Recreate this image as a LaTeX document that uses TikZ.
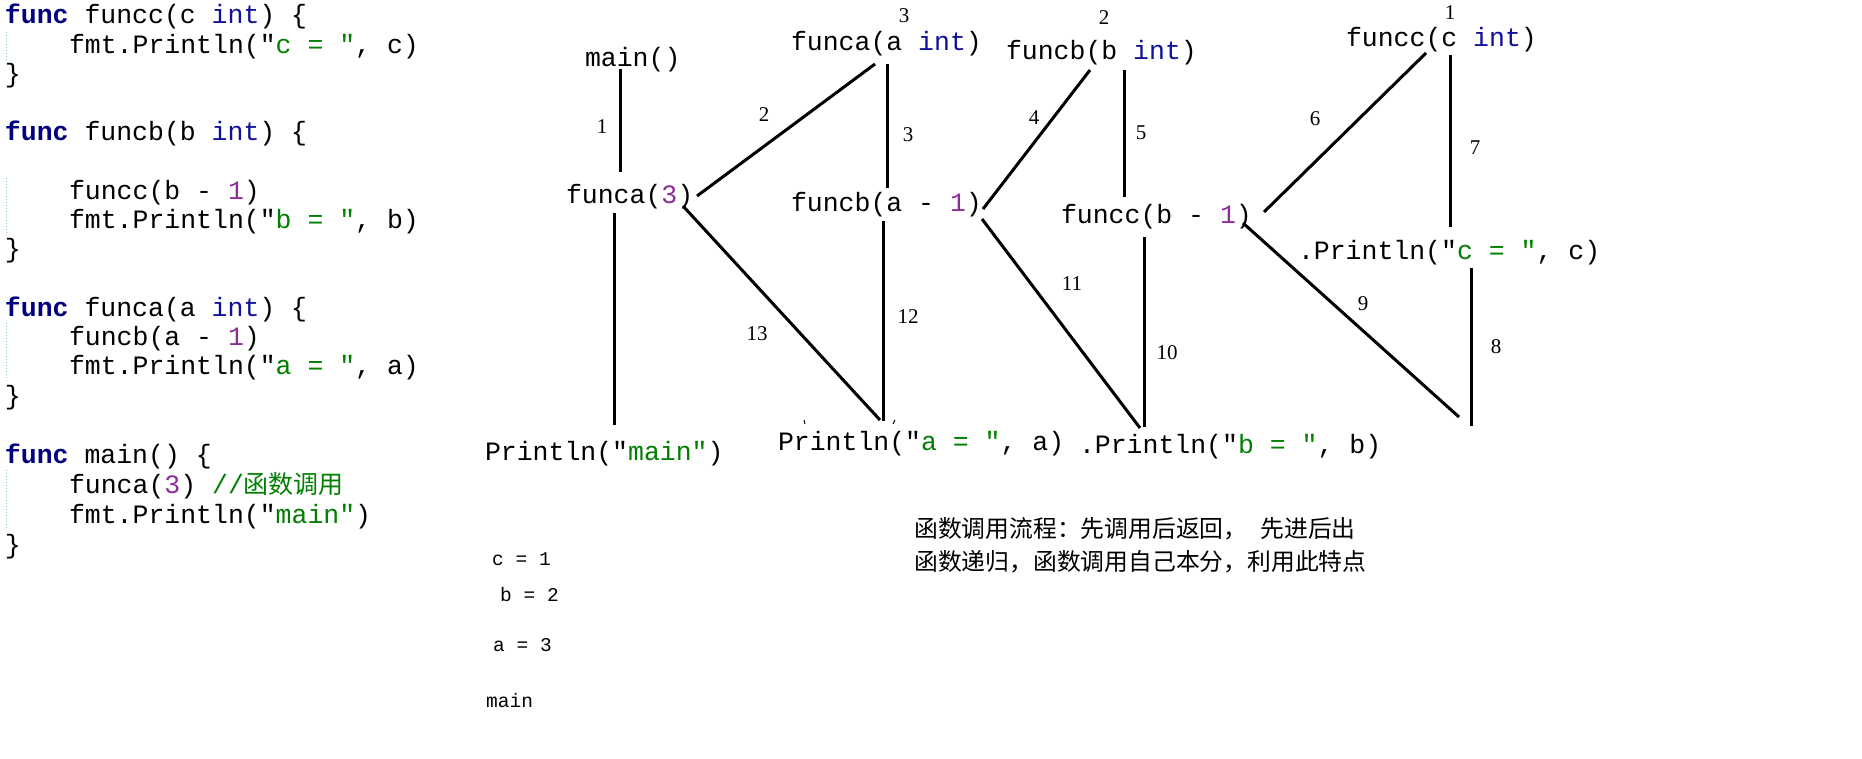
\documentclass[tikz,border=0pt]{standalone}
\usepackage{fontspec}
\newfontfamily\codefont{Liberation Mono}
\newfontfamily\digfont{Liberation Serif}
\newfontfamily\cjkfont{Noto Sans CJK SC}
\definecolor{kwblue}{HTML}{000080}
\definecolor{tyblue}{HTML}{10109A}
\definecolor{strgreen}{HTML}{008000}
\definecolor{numpurple}{HTML}{8E2C9C}
\definecolor{guide}{HTML}{7CC4C4}
\newcommand\gokw[1]{{\bfseries\color{kwblue}#1}}
\newcommand\goty[1]{{\color{tyblue}#1}}
\newcommand\gostr[1]{"{\color{strgreen}#1"}}
\newcommand\gonum[1]{{\color{numpurple}#1}}
\tikzset{
  code/.style={anchor=base west, inner sep=0pt, outer sep=0pt, font=\codefont\fontsize{26.5}{30}\selectfont},
  lbl/.style={inner sep=0pt, font=\digfont\fontsize{21}{24}\selectfont},
  outtxt/.style={anchor=base west, inner sep=0pt, font=\codefont\fontsize{19.5}{22}\selectfont},
  note/.style={anchor=base west, inner sep=0pt, font=\cjkfont\fontsize{23.8}{28}\selectfont},
  edge/.style={line width=3pt, black},
  guideline/.style={guide, line width=1pt, dash pattern=on 1pt off 2pt},
  tick/.style={line width=1pt, black}
}
\begin{document}
\begin{tikzpicture}[x=1pt,y=-1pt]
\useasboundingbox (0,0) rectangle (1862,758);
\fill[white] (0,0) rectangle (1862,758);

% ---------- source code ----------
\node[code] (c1)  at (5,23)    {\gokw{func} funcc(c \goty{int}) \{};
\node[code] (c2)  at (69,53)   {fmt.Println(\gostr{c = }, c)};
\node[code] (c3)  at (5,82)    {\}};
\node[code] (c5)  at (5,140)   {\gokw{func} funcb(b \goty{int}) \{};
\node[code] (c7)  at (69,199)  {funcc(b - \gonum{1})};
\node[code] (c8)  at (69,228)  {fmt.Println(\gostr{b = }, b)};
\node[code] (c9)  at (5,257)   {\}};
\node[code] (c11) at (5,316)   {\gokw{func} funca(a \goty{int}) \{};
\node[code] (c12) at (69,345)  {funcb(a - \gonum{1})};
\node[code] (c13) at (69,374)  {fmt.Println(\gostr{a = }, a)};
\node[code] (c14) at (5,404)   {\}};
\node[code] (c16) at (5,463)   {\gokw{func} main() \{};
\node[code] (c17) at (69,493)  {funca(\gonum{3}) {\color{strgreen}//{\cjkfont\fontsize{25}{30}\selectfont 函数调用}}};
\node[code] (c18) at (69,523)  {fmt.Println(\gostr{main})};
\node[code] (c19) at (5,553)   {\}};

\draw[guideline] (6.3,32) -- (6.3,60);
\draw[guideline] (6.3,178) -- (6.3,235);
\draw[guideline] (6.3,323) -- (6.3,380);
\draw[guideline] (6.3,470) -- (6.3,530);

% ---------- call tree nodes ----------
\node[code] (main)   at (585,66)   {main()};
\node[code] (fa3)    at (566,203)  {funca(\gonum{3})};
\node[code] (faint)  at (791,50)   {funca(a \goty{int})};
\node[code] (fbam1)  at (791,211)  {funcb(a - \gonum{1})};
\node[code] (fbint)  at (1006,59)  {funcb(b \goty{int})};
\node[code] (fcbm1)  at (1061,223) {funcc(b - \gonum{1})};
\node[code] (fcint)  at (1346,46)  {funcc(c \goty{int})};
\node[code] (prc)    at (1298,259) {.Println(\gostr{c = }, c)};
\node[code] (prmain) at (485,460)  {Println(\gostr{main})};
\node[code] (pra)    at (778,450)  {Println(\gostr{a = }, a)};
\node[code] (prb)    at (1079,453) {.Println(\gostr{b = }, b)};

% values on top
\node[lbl] (v3) at (904,16)  {3};
\node[lbl] (v2) at (1104,18) {2};
\node[lbl] (v1) at (1450,13) {1};

% ---------- connector end points ----------
\coordinate (main-s)  at (620,69);
\coordinate (fa3-n)   at (620,172);
\coordinate (fa3-ne)  at (697,196);
\coordinate (faint-sw) at (875,64);
\coordinate (faint-s) at (887,64);
\coordinate (fbam1-n) at (887,188);
\coordinate (fbam1-ne) at (983,209);
\coordinate (fbint-sw) at (1090,70);
\coordinate (fbint-s) at (1124,70);
\coordinate (fcbm1-n) at (1124,197);
\coordinate (fcbm1-ne) at (1264,212);
\coordinate (fcint-sw) at (1426,53);
\coordinate (fcint-s) at (1450,55);
\coordinate (prc-n)   at (1450,227);
\coordinate (prc-s)   at (1471,268);
\coordinate (end-c)   at (1471,426);
\coordinate (fcbm1-se) at (1243,223);
\coordinate (end-c2)  at (1459,417);
\coordinate (fcbm1-s) at (1144,237);
\coordinate (prb-n)   at (1144,427);
\coordinate (fbam1-se) at (982,219);
\coordinate (prb-nw)  at (1140,428);
\coordinate (fbam1-s) at (883,221);
\coordinate (pra-n)   at (883,421);
\coordinate (fa3-se)  at (683,206);
\coordinate (pra-ne)  at (880,420);
\coordinate (fa3-s)   at (614,213);
\coordinate (prmain-n) at (614,425);

% ---------- connectors ----------
\draw[edge] (main-s) -- (fa3-n);
\draw[edge] (fa3-ne) -- (faint-sw);
\draw[edge] (faint-s) -- (fbam1-n);
\draw[edge] (fbam1-ne) -- (fbint-sw);
\draw[edge] (fbint-s) -- (fcbm1-n);
\draw[edge] (fcbm1-ne) -- (fcint-sw);
\draw[edge] (fcint-s) -- (prc-n);
\draw[edge] (prc-s) -- (end-c);
\draw[edge] (fcbm1-se) -- (end-c2);
\draw[edge] (fcbm1-s) -- (prb-n);
\draw[edge] (fbam1-se) -- (prb-nw);
\draw[edge] (fbam1-s) -- (pra-n);
\draw[edge] (fa3-se) -- (pra-ne);
\draw[edge] (fa3-s) -- (prmain-n);

% edge numbers
\node[lbl] (n1)  at (602,127)  {1};
\node[lbl] (n2)  at (764,115)  {2};
\node[lbl] (n3)  at (908,135)  {3};
\node[lbl] (n4)  at (1034,118) {4};
\node[lbl] (n5)  at (1141,133) {5};
\node[lbl] (n6)  at (1315,119) {6};
\node[lbl] (n7)  at (1475,148) {7};
\node[lbl] (n8)  at (1496,347) {8};
\node[lbl] (n9)  at (1363,304) {9};
\node[lbl] (n10) at (1167,353) {10};
\node[lbl] (n11) at (1072,284) {11};
\node[lbl] (n12) at (908,317)  {12};
\node[lbl] (n13) at (757,334)  {13};

% small marks
\draw[tick] (804,420) -- (805,424);
\draw[tick] (895,420) -- (893,424);

% ---------- output ----------
\node[outtxt] (o1) at (492,565) {c = 1};
\node[outtxt] (o2) at (500,601) {b = 2};
\node[outtxt] (o3) at (493,651) {a = 3};
\node[outtxt] (o4) at (486,707) {main};

% ---------- notes ----------
\node[note] (t1) at (914,537) {函数调用流程：先调用后返回，\hspace{13pt}先进后出};
\node[note] (t2) at (914,570) {函数递归，函数调用自己本分，利用此特点};
\end{tikzpicture}
\end{document}
